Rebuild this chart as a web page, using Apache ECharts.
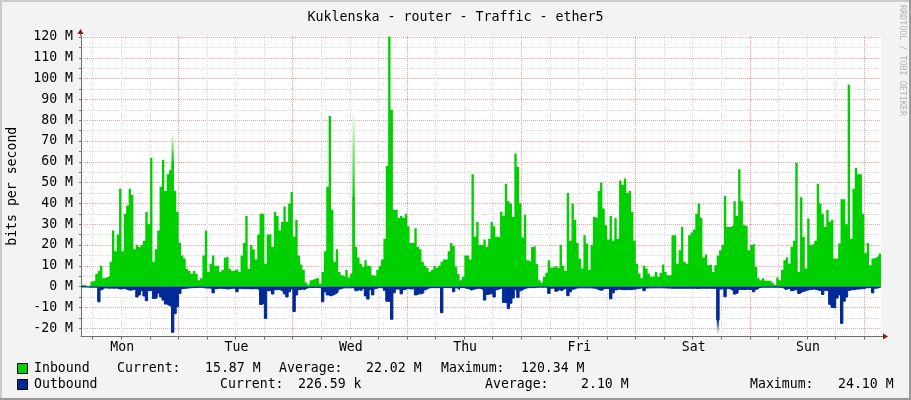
<!DOCTYPE html>
<html>
<head>
<meta charset="utf-8">
<style>
  html, body { margin: 0; padding: 0; background: #f3f3f3; }
  #chart { width: 911px; height: 400px; }
</style>
<script src="https://cdn.jsdelivr.net/npm/echarts@6/dist/echarts.min.js"></script>
</head>
<body>
<div id="chart"></div>
<script>
// 30 minute samples, in Mbit/s, first one at START_HOUR hours after Monday 00:00
const START_HOUR = 3.55
const SAMPLE_HOURS = 0.5

const inbound = [
  .8,.6,.2,.5,2.5,2.8,6,7.5,10,4,
  4.5,5,12,27,17,25,47,17,35,39,
  47,44,18,20,19,20,22,36,30,62,
  12,18,27,48,61,46,54,56,60,46,
  36,21,15,13.5,8.5,7.5,6,7.5,6,3,
  4,15,27,7,11,15,10,10,7,8,
  14,14.5,8.5,7.5,8,8.5,7,15,21,34,
  8.5,20,18,13,25,35,35,11,25,25,
  19,36,34,27,31,38.5,31,40,45.5,24,
  32,15,10.6,8,2,1,3,3.5,4,4,
  1.5,7,17,48,82,37,12,18,7,5.5,
  4.7,8,4.4,6.3,43,19,14,11,9.5,12.7,
  10,9.5,5.5,5,8,10,13,23,58,120.3,
  85,37,37,33,34,33,35,29,21,21,
  28,19,18,12,10,9,7,8,10,9,
  10,12,13,13,17,21,19.5,9.5,6,3,
  4.7,15,15,13,54,24,31,20,20,22.6,
  19,23,31,29,24,23.6,36,34,49.5,41,
  40,33.5,64,57.5,40,23.6,34.6,12.7,12,19,
  19.5,11,3,2,4.7,6.6,12.7,9,9.5,10,
  9,20,10,7.5,45,22,40,32,21,13.5,
  8.7,24.7,20.7,8,20,33.5,33,46,50,37.5,
  29.5,22.6,34,22,33,23,51,49,52,45,
  46,36,22,11,6.3,4,10,8.7,6.3,4.7,
  5,7,4.7,6.6,10.6,7,5.5,5.5,24.7,24.7,
  11,17.5,28.7,12,11,24.7,26,27.5,35,40,
  33,14,15.4,10.3,10.6,7,10.3,15,17.5,20,
  43.6,28.7,28.7,29.5,41,34,56.4,41,29.5,29,
  17.5,20,20.7,9.5,4,3,4,2.8,2.8,2.8,
  1.8,.8,4.4,3,8,12.7,14,11,19,22,
  59.6,7,43,24,8.7,32.7,20,20.7,22,49.5,
  40,35,28.7,37,31,32,13.5,13.5,20.7,42,
  42,30,97,23,47,57,54,54,35,16,
  21,10.3,13.5,14,14.7,15.87
]

const outbound = [
  -.2,-.2,-.2,-.3,-.3,-.3,-.3,-7.3,-1.5,-.6,
  -.7,-.8,-.7,-.8,-.7,-1,-1.2,-.9,-1.1,-1.6,
  -1.7,-1.5,-1.3,-5,-4,-2,-4.5,-6.8,-2,-1.7,
  -5.7,-5.5,-3.2,-5,-6.5,-8.4,-9,-9.6,-22,-13,
  -9.7,-3.3,-1,-.8,-.7,-.6,-.5,-.5,-.4,-.3,
  -.4,-.6,-.7,-.7,-.8,-3,-1,-.8,-.8,-.9,
  -1,-1.2,-.9,-.8,-.9,-2.5,-.9,-1,-1,-1,
  -1,-1.1,-1,-1,-1.5,-8.6,-8,-15.3,-2,-2,
  -3.6,-1.5,-1.4,-1.6,-2.5,-3.5,-5,-2.5,-1.2,-12,
  -4,-1.5,-1.2,-1.4,-.7,-.5,-.5,-.4,-.4,-.5,
  -.5,-7.3,-2.5,-4,-4.5,-4,-3.5,-2.7,-1.2,-.7,
  -.6,-.6,-.6,-.5,-.8,-2,-1.5,-2,-1,-4.5,
  -6,-1.5,-4,-1,-.5,-.5,-.6,-1.8,-7,-7.3,
  -15.7,-3,-1.2,-1.2,-3.5,-1.5,-1,-1,-1.2,-.9,
  -4,-3.5,-3.5,-3,-1.5,-.8,-.5,-.5,-.5,-.5,
  -.5,-12.6,-.5,-.5,-.5,-.5,-2.5,-.6,-1.5,-.5,
  -.4,-.9,-1,-1.7,-1.3,-1,-.8,-.9,-1.5,-6.5,
  -3.8,-3.5,-3.5,-5,-1.5,-1,-.7,-7.6,-7.7,-10.5,
  -8,-5.5,-1.5,-5.2,-2,-1.2,-.8,-.5,-.5,-.5,
  -.4,-.3,-.3,-.3,-.3,-.3,-3.3,-.8,-.7,-2.2,
  -1.5,-2,-1.2,-.8,-4.4,-2.5,-1.3,-.8,-.6,-.6,
  -.6,-.6,-.6,-.6,-.7,-.8,-1.2,-1.7,-1.7,-.9,
  -.9,-.9,-5.9,-3,-1.6,-1.2,-1.4,-1.5,-1.5,-1.4,
  -1.5,-1.3,-1.2,-.9,-.8,-.6,-2,-.7,-.6,-.6,
  -.6,-.6,-.6,-.6,-.6,-.7,-.7,-.8,-.8,-.8,
  -.8,-.8,-.8,-.8,-.8,-.8,-.8,-.8,-.9,-.8,
  -.8,-.8,-.8,-.8,-.8,-.8,-.9,-16,-1.2,-1,
  -4.9,-1,-1.2,-2,-3.6,-3,-1.4,-1.4,-1.4,-1.3,
  -1.3,-1.4,-2.5,-1.3,-.5,-.3,-.3,-.3,-.3,-.3,
  -.3,-.3,-.3,-.4,-.6,-1.5,-1,-.9,-2,-1.5,
  -1.5,-3.3,-2.5,-2.2,-1.8,-1.5,-1.3,-1.2,-1.5,-1.7,
  -2,-3.8,-1.8,-2,-8.5,-10,-10.3,-5.5,-4,-17.7,
  -7,-5,-1.8,-1.5,-1.5,-1.2,-1.2,-1,-1,-.6,
  -.5,-.5,-3,-.8,-.6,-.23
]

// samples whose tips fade out in the picture: where, how far, where the solid part stops
const fadeIndex = [38, 114, 267]
const fadeTip = [74, 86, -23]
const fadeSolid = [60, 43, -16]

const dayNames = ['Mon', 'Tue', 'Wed', 'Thu', 'Fri', 'Sat', 'Sun']
const dayLabelHours = [12, 36, 60, 84, 108, 132, 156]
const sixHourTicks = []
for (let h = 6; h <= 168; h += 6) sixHourTicks.push(h)
const yTicks = []
for (let v = -20; v <= 120; v += 5) yTicks.push(v)

const legendRows = [
  ['Inbound', 'Current:', '15.87 M', 'Average:', '22.02 M', 'Maximum:', '120.34 M'],
  ['Outbound', 'Current:', '226.59 k', 'Average:', '2.10 M', 'Maximum:', '24.10 M']
]
const legendColumns = [
  [34, 117, 205, 279, 366, 441, 521],
  [34, 220, 298, 485, 581, 750, 838]
]
const legendRowY = [369, 385]

const MONO = '"DejaVu Sans Mono", monospace'
const GREEN = '#00cf00'
const BLUE = '#002a97'
const AXIS = '#6f6f6f'
const ARROW = '#7f1a1a'

function toSeriesData(values) {
  const points = values.map((v, i) => [START_HOUR + i * SAMPLE_HOURS, v])
  points.push([START_HOUR + values.length * SAMPLE_HOURS, values[values.length - 1]])
  return points
}

function areaSeries(name, values, color, lineWidth) {
  return {
    name, type: 'line', step: 'end', silent: true, showSymbol: false,
    data: toSeriesData(values),
    lineStyle: { width: lineWidth, color },
    areaStyle: { color, opacity: 1 }
  }
}

const fadeSeries = fadeIndex.map((idx, k) => {
  const color = fadeTip[k] > 0 ? GREEN : BLUE
  const start = START_HOUR + idx * SAMPLE_HOURS
  const solidAt = fadeSolid[k] / fadeTip[k]
  const stops = [
    { offset: 0, color },
    { offset: solidAt, color },
    { offset: 1, color: '#ffffff' }
  ]
  // gradient runs from the zero line towards the tip
  const grad = fadeTip[k] > 0
    ? new echarts.graphic.LinearGradient(0, 1, 0, 0, stops)
    : new echarts.graphic.LinearGradient(0, 0, 0, 1, stops)
  return {
    name: 'fade' + k, type: 'line', silent: true, showSymbol: false,
    data: [[start, fadeTip[k]], [start + SAMPLE_HOURS, fadeTip[k]]],
    lineStyle: { width: 0 },
    areaStyle: { color: grad, opacity: 1 }
  }
})

const legendGraphics = []
legendRows.forEach((row, r) => {
  row.forEach((text, c) => {
    legendGraphics.push({
      type: 'text', x: legendColumns[r][c], y: legendRowY[r],
      style: { text, font: '13.2px ' + MONO, fill: '#000', textVerticalAlign: 'middle' }
    })
  })
  legendGraphics.push({
    type: 'rect', shape: { x: 17.5, y: legendRowY[r] - 5.5, width: 10, height: 10 },
    style: { fill: r === 0 ? GREEN : BLUE, stroke: '#000', lineWidth: 1 }
  })
})

const chart = echarts.init(document.getElementById('chart'), null, { renderer: 'canvas' })

chart.setOption({
  animation: false,
  backgroundColor: '#f3f3f3',
  title: {
    text: 'Kuklenska - router - Traffic - ether5',
    left: 'center', top: 6,
    textStyle: { fontFamily: MONO, fontSize: 13.3, fontWeight: 'normal', color: '#000' }
  },
  grid: {
    left: 81, top: 36, width: 800, bottom: 63.5,
    outerBoundsMode: 'none',
    show: true, backgroundColor: '#fff', borderWidth: 0
  },
  xAxis: {
    type: 'value', min: START_HOUR, max: START_HOUR + 168,
    axisLine: { onZero: false, lineStyle: { color: AXIS, width: 1 } },
    axisTick: { customValues: sixHourTicks, length: 3, lineStyle: { color: AXIS } },
    axisLabel: {
      customValues: dayLabelHours, margin: 5, padding: [0, 0, 0, 2],
      fontFamily: MONO, fontSize: 13.2, color: '#000',
      formatter: v => dayNames[dayLabelHours.indexOf(v)]
    },
    splitLine: {
      show: true, customValues: sixHourTicks,
      lineStyle: { color: ['#dcdcdc', '#dcdcdc', '#dcdcdc', '#ff9a9a'], type: [1, 1], width: 1 }
    }
  },
  yAxis: {
    type: 'value', min: -24, max: 120.5,
    name: 'bits per second', nameLocation: 'middle', nameGap: 62, nameRotate: 90,
    nameTextStyle: { fontFamily: MONO, fontSize: 13.2, color: '#000' },
    axisLine: { show: true, onZero: false, lineStyle: { color: AXIS, width: 1 } },
    axisTick: { show: true, customValues: yTicks, length: 2, lineStyle: { color: AXIS } },
    axisLabel: {
      customValues: yTicks.filter(v => v % 10 === 0), margin: 8, padding: [4, 0, 0, 0],
      fontFamily: MONO, fontSize: 13.2, color: '#000',
      formatter: v => v + ' M'
    },
    splitLine: {
      show: true, customValues: yTicks,
      lineStyle: { color: ['#f0a0a0', '#dcdcdc'], type: [1, 1], width: 1 }
    }
  },
  series: [
    ...fadeSeries,
    areaSeries('Inbound', inbound, GREEN, 0),
    areaSeries('Outbound', outbound, BLUE, 1)
  ],
  graphic: [
    // frame of the image
    { type: 'rect', shape: { x: 0, y: 0, width: 911, height: 2 }, style: { fill: '#cbcbcb' } },
    { type: 'rect', shape: { x: 0, y: 0, width: 2, height: 400 }, style: { fill: '#cbcbcb' } },
    { type: 'rect', shape: { x: 909, y: 0, width: 2, height: 400 }, style: { fill: '#999999' } },
    { type: 'rect', shape: { x: 0, y: 398, width: 911, height: 2 }, style: { fill: '#999999' } },
    // axis arrows
    { type: 'line', shape: { x1: 80.5, y1: 36, x2: 80.5, y2: 31 }, style: { stroke: AXIS } },
    { type: 'line', shape: { x1: 881, y1: 336.5, x2: 885, y2: 336.5 }, style: { stroke: AXIS } },
    { type: 'polygon', shape: { points: [[80.5, 29], [77.5, 34], [83.5, 34]] }, style: { fill: ARROW } },
    { type: 'polygon', shape: { points: [[888, 336.5], [883, 333.5], [883, 339.5]] }, style: { fill: ARROW } },
    {
      type: 'text', x: 906, y: 5, rotation: -Math.PI / 2,
      style: { text: 'RRDTOOL / TOBI OETIKER', font: '8.4px ' + MONO, fill: '#b4b4b4' }
    },
    ...legendGraphics
  ]
})
</script>
</body>
</html>
